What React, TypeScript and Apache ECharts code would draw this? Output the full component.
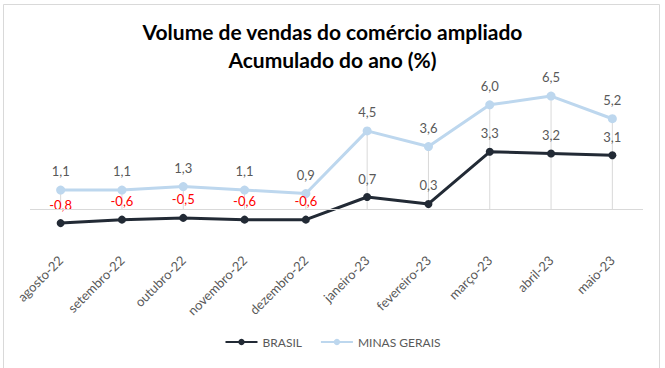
import React, { useEffect, useRef } from "react";
import * as echarts from "echarts";

const categories = [
  "agosto-22",
  "setembro-22",
  "outubro-22",
  "novembro-22",
  "dezembro-22",
  "janeiro-23",
  "fevereiro-23",
  "março-23",
  "abril-23",
  "maio-23",
];
const brasil = [-0.8, -0.6, -0.5, -0.6, -0.6, 0.7, 0.3, 3.3, 3.2, 3.1];
const minasGerais = [1.1, 1.1, 1.3, 1.1, 0.9, 4.5, 3.6, 6.0, 6.5, 5.2];

const FONT = "Lato, 'Open Sans', sans-serif";
const fmt = (v: number) => v.toFixed(1).replace(".", ",");

export default function App() {
  const ref = useRef<HTMLDivElement>(null);
  useEffect(() => {
    if (!ref.current) return;
    const chart = echarts.init(ref.current, undefined, { renderer: "svg" });
    chart.setOption({
      animation: false,
      backgroundColor: "#ffffff",
      title: {
        text: "Volume de vendas do comércio ampliado\nAcumulado do ano (%)",
        left: "center",
        top: 12,
        textStyle: {
          fontFamily: FONT,
          fontSize: 21,
          fontWeight: "bold",
          color: "#000000",
          lineHeight: 28,
        },
      },
      graphic: [
        {
          type: "rect",
          shape: { x: 3.5, y: 4.5, width: 656, height: 366 },
          style: { fill: "none", stroke: "#d9d9d9", lineWidth: 1 },
          silent: true,
        },
      ],
      legend: {
        bottom: 15,
        left: "center",
        itemWidth: 32,
        itemHeight: 8,
        itemGap: 18,
        data: ["BRASIL", "MINAS GERAIS"],
        textStyle: { fontFamily: FONT, fontSize: 12, color: "#595959" },
      },
      grid: { left: 30, right: 22, top: 70, bottom: 124 },
      xAxis: {
        type: "category",
        data: categories,
        boundaryGap: true,
        axisLine: { show: false, onZero: false },
        axisTick: { show: false },
        splitLine: { show: false },
        axisLabel: {
          rotate: 45,
          interval: 0,
          margin: 14,
          fontFamily: FONT,
          fontSize: 13,
          color: "#595959",
        },
      },
      yAxis: {
        type: "value",
        min: -2,
        max: 8,
        interval: 2,
        show: false,
        splitLine: { show: false },
      },
      series: [
        {
          name: "drop",
          type: "bar",
          data: minasGerais,
          barWidth: 1,
          itemStyle: { color: "#d9d9d9" },
          silent: true,
          z: 1,
          legendHoverLink: false,
          markLine: {
            silent: true,
            symbol: "none",
            label: { show: false },
            lineStyle: { color: "#d9d9d9", width: 1, type: "solid" },
            data: [{ yAxis: 0 }],
          },
        },
        {
          name: "MINAS GERAIS",
          type: "line",
          data: minasGerais,
          symbol: "circle",
          symbolSize: 9,
          lineStyle: { color: "#bdd7ee", width: 3 },
          itemStyle: { color: "#bdd7ee" },
          z: 3,
          label: {
            show: true,
            position: "top",
            distance: 8,
            fontFamily: FONT,
            fontSize: 13,
            color: "#595959",
            formatter: (p: any) => fmt(p.value),
          },
        },
        {
          name: "BRASIL",
          type: "line",
          data: brasil.map((v) => ({
            value: v,
            label: { color: v < 0 ? "#ff0000" : "#595959" },
          })),
          symbol: "circle",
          symbolSize: 8,
          lineStyle: { color: "#222a35", width: 3 },
          itemStyle: { color: "#222a35" },
          z: 4,
          label: {
            show: true,
            position: "top",
            distance: 8,
            fontFamily: FONT,
            fontSize: 13,
            formatter: (p: any) => fmt(p.value),
          },
        },
      ],
    });
    return () => chart.dispose();
  }, []);
  return (
    <div
      ref={ref}
      style={{ position: "absolute", left: 0, top: 0, width: 665, height: 368 }}
    />
  );
}
